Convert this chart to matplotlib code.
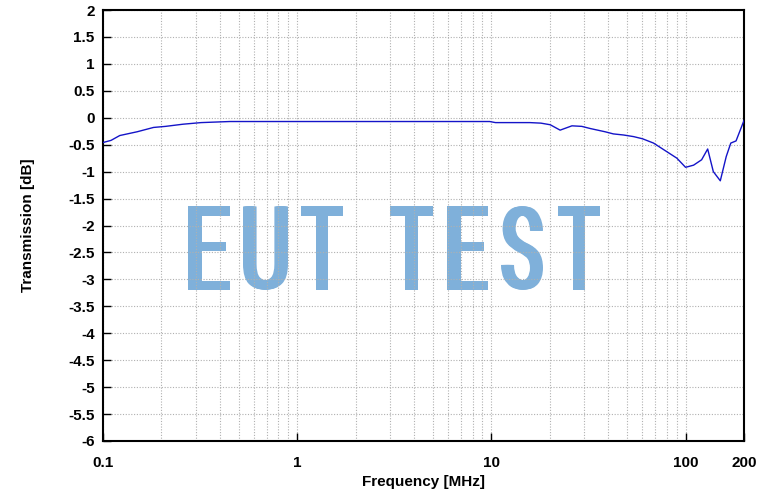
import matplotlib
matplotlib.use("Agg")
import matplotlib.pyplot as plt
import numpy as np
from matplotlib.textpath import TextPath
from matplotlib.font_manager import FontProperties, fontManager
from matplotlib.patches import PathPatch
from matplotlib.transforms import Affine2D
from matplotlib.ticker import FixedLocator, NullFormatter

freq_mhz = [0.1, 0.11, 0.122, 0.15, 0.182, 0.21, 0.258, 0.32, 0.45, 1.0, 3.0, 9.8, 10.5,
            15.8, 18.0, 20.1, 22.6, 26.0, 29.2, 32.3, 38.5, 42.5, 47.9, 54.0, 60.0,
            68.4, 80.1, 90.2, 100, 110, 121, 130, 139, 151, 162, 171, 182, 200]
trans_db = [-0.46, -0.42, -0.33, -0.26, -0.18, -0.16, -0.12, -0.09, -0.07, -0.07, -0.07, -0.07, -0.09,
            -0.09, -0.10, -0.13, -0.23, -0.15, -0.16, -0.20, -0.26, -0.30, -0.32, -0.35, -0.39,
            -0.47, -0.63, -0.75, -0.92, -0.88, -0.78, -0.58, -1.00, -1.17, -0.72, -0.47, -0.43, -0.05]

x_ticks = [0.1, 1, 10, 100, 200]
x_labels = ["0.1", "1", "10", "100", "200"]
y_ticks = [2, 1.5, 1, 0.5, 0, -0.5, -1, -1.5, -2, -2.5, -3, -3.5, -4, -4.5, -5, -5.5, -6]
y_labels = ["2", "1.5", "1", "0.5", "0", "-0.5", "-1", "-1.5", "-2", "-2.5", "-3", "-3.5",
            "-4", "-4.5", "-5", "-5.5", "-6"]
watermark = "EUT TEST"

W, H = 774, 496
fig = plt.figure(figsize=(W / 100, H / 100), dpi=100)
L, R, T, B = 103, 744, 10, 441
ax = fig.add_axes([L / W, 1 - B / H, (R - L) / W, (B - T) / H])

ax.plot(freq_mhz, trans_db, color="#1414c8", lw=1.0, zorder=3)
ax.set_xscale("log")
ax.set_xlim(0.1, 200)
ax.set_ylim(-6, 2)

ax.xaxis.set_major_locator(FixedLocator(x_ticks))
ax.set_xticklabels(x_labels)
minor = [m * 10.0 ** e for e in range(-1, 3) for m in range(2, 10) if m * 10.0 ** e < 200]
ax.xaxis.set_minor_locator(FixedLocator(minor))
ax.xaxis.set_minor_formatter(NullFormatter())
ax.set_yticks(y_ticks)
ax.set_yticklabels(y_labels)

ax.tick_params(axis="both", which="major", direction="in", length=6, width=1, labelsize=11)
ax.tick_params(axis="x", which="major", pad=11)
ax.tick_params(axis="y", which="major", pad=6)
ax.tick_params(axis="x", which="minor", length=0)
for lab in ax.get_xticklabels() + ax.get_yticklabels():
    lab.set_fontweight("bold")
    lab.set_fontfamily("Liberation Sans")

ax.grid(True, which="major", axis="both", color="#b0b0b0", linestyle=(0, (1, 1.5)), lw=0.8)
ax.grid(True, which="minor", axis="x", color="#b0b0b0", linestyle=(0, (1, 1.5)), lw=0.8)
for s in ax.spines.values():
    s.set_linewidth(1.5)
    s.set_color("black")

ax.set_xlabel("Frequency [MHz]", fontsize=11, fontweight="bold", family="Liberation Sans")
ax.set_ylabel("Transmission [dB]", fontsize=11, fontweight="bold", family="Liberation Sans")
ax.xaxis.set_label_coords(0.5, (B - 475) / (B - T))
ax.yaxis.set_label_coords((35 - L) / (R - L), 0.5)

# watermark font: Roboto Condensed if installed
files = [f.fname for f in fontManager.ttflist]
font_file = None
for key in ["robotocondensed-regular.", "robotocondensed-medium."]:
    hits = [fn for fn in files if key in fn.lower()]
    if hits:
        font_file = hits[0]
        break
fp = FontProperties(fname=font_file) if font_file else FontProperties(family="Roboto", weight="normal")

letter_boxes = [(188, 230), (243, 288), (301, 343), None, (390, 433), (447, 488), (501, 543), (558, 600)]
ytop, ybot = 206.5, 289.5
smear = 5.5  # horizontal thickening of vertical stems, px
for ch, box in zip(watermark, letter_boxes):
    if box is None:
        continue
    tp = TextPath((0, 0), ch, size=100, prop=fp)
    bb = tp.get_extents()
    x0, x1 = box
    sx = (x1 - x0 - smear) / W / bb.width
    sy = (ybot - ytop) / H / bb.height
    for k in range(7):
        dx = smear * k / 6.0
        tr = (Affine2D().translate(-bb.x0, -bb.y0).scale(sx, sy)
              .translate((x0 + dx) / W, 1 - ybot / H))
        patch = PathPatch(tr.transform_path(tp), facecolor="#7fb0da", edgecolor="none",
                          transform=fig.transFigure, zorder=0.5, clip_on=False)
        ax.add_artist(patch)

fig.savefig("out.png", dpi=100)
